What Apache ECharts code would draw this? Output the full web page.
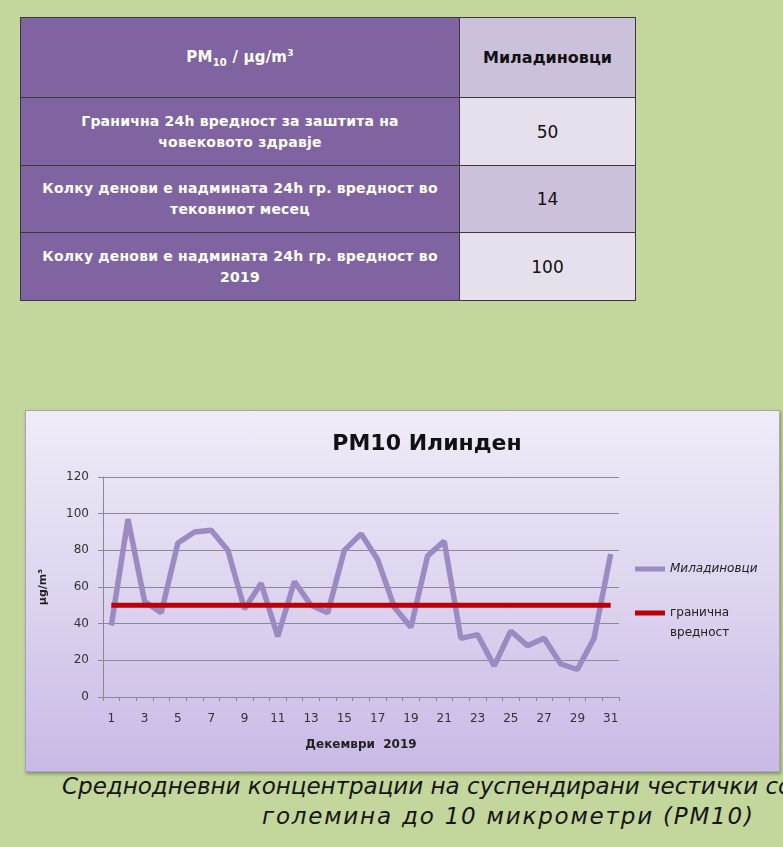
<!DOCTYPE html>
<html>
<head>
<meta charset="utf-8">
<script src="https://cdn.jsdelivr.net/npm/echarts@6/dist/echarts.min.js"></script>
<style>
  html, body { margin: 0; padding: 0; width: 783px; height: 847px; overflow: hidden; background: #c3d69b; }
  #tbl { position: absolute; left: 20px; top: 17px; border-collapse: collapse; font-family: "DejaVu Sans", sans-serif; }
  #tbl td { border: 1.5px solid #3a3a3a; text-align: center; padding: 0; }
  #tbl td.lab { background: #8064a2; color: #fff; font-weight: bold; width: 438px; font-size: 14px; line-height: 21px; letter-spacing: 0.2px; }
  #tbl td.val { width: 175px; color: #111; font-size: 17px; }
  #tbl td.hd { font-size: 15px; font-weight: bold; }
  #chart { position: absolute; left: 25px; top: 410px; width: 755px; height: 362px;
           border: 1px solid #a9a6ad; box-sizing: border-box;
           background: linear-gradient(to bottom, #efecf8 0%, #dcd2ee 55%, #c9b9e6 100%);
           box-shadow: 1px 2px 3px rgba(60,60,60,0.45); }
  .cap { position: absolute; white-space: nowrap; font-family: "DejaVu Sans", sans-serif; font-style: italic;
         font-size: 23px; color: #151515; }
</style>
</head>
<body>
<table id="tbl">
  <tr style="height:80px">
    <td class="lab hd">PM<sub style="font-size:10px">10</sub> / µg/m<sup style="font-size:9px">3</sup></td>
    <td class="val hd" style="background:#ccc1da; font-size:16px">Миладиновци</td>
  </tr>
  <tr style="height:68px">
    <td class="lab">Гранична 24h вредност за заштита на<br>човековото здравје</td>
    <td class="val" id="v0" style="background:#e5e0ec"></td>
  </tr>
  <tr style="height:67px">
    <td class="lab">Колку денови е надмината 24h гр. вредност во<br>тековниот месец</td>
    <td class="val" id="v1" style="background:#ccc1da"></td>
  </tr>
  <tr style="height:68px">
    <td class="lab">Колку денови е надмината 24h гр. вредност во<br>2019</td>
    <td class="val" id="v2" style="background:#e5e0ec"></td>
  </tr>
</table>

<div id="chart"></div>

<div class="cap" style="left:62px; top:773px;">Среднодневни концентрации на суспендирани честички со</div>
<div class="cap" style="left:262px; top:803px; letter-spacing:1.8px;">големина до 10 микрометри (PM10)</div>

<script>
// Days of December 2019
const days = ['1','2','3','4','5','6','7','8','9','10','11','12','13','14','15','16',
              '17','18','19','20','21','22','23','24','25','26','27','28','29','30','31'];
// Daily mean PM10 at Миладиновци, µg/m³
const pm10 = [39, 97, 52, 46, 84, 90, 91, 80, 48, 62, 33, 63, 50, 46, 80, 89,
              75, 49, 38, 77, 85, 32, 34, 17, 36, 28, 32, 18, 15, 32, 78];
// 24h limit value
const limitValue = 50;
const limitLine = days.map(() => limitValue);
// Summary table values
const tableValues = [50, 14, 100];
const yTicks = { min: 0, max: 120, interval: 20 };

tableValues.forEach((v, i) => { document.getElementById('v' + i).textContent = v; });

const font = '"DejaVu Sans", sans-serif';
const chart = echarts.init(document.getElementById('chart'), null, { renderer: 'canvas' });
chart.setOption({
  backgroundColor: 'transparent',
  animation: false,
  title: {
    text: 'PM10 Илинден',
    left: 396, top: 17, textAlign: 'center',
    textStyle: { fontFamily: font, fontSize: 22, fontWeight: 'bold', color: '#111' }
  },
  grid: { left: 77, right: 160, top: 66, bottom: 74 },
  legend: {
    orient: 'vertical',
    left: 604, top: 143,
    itemGap: 4,
    itemWidth: 30, itemHeight: 5,
    icon: 'rect',
    // a leading blank line keeps the key mark level with the first text line
    formatter: n => n.indexOf(' ') > 0 ? ' \n' + n.replace(' ', '\n') : n,
    textStyle: { fontFamily: font, fontSize: 12, color: '#222', lineHeight: 20 },
    data: [
      { name: 'Миладиновци', textStyle: { fontStyle: 'italic' } },
      { name: 'гранична вредност' }
    ]
  },
  xAxis: {
    type: 'category',
    data: days,
    boundaryGap: true,
    name: 'Декември  2019',
    nameLocation: 'middle',
    nameGap: 42,
    nameTextStyle: { fontFamily: font, fontSize: 12, fontWeight: 'bold', color: '#222' },
    axisLine: { lineStyle: { color: '#8a8797', width: 1 } },
    axisTick: { show: true, interval: 0, length: 4, lineStyle: { color: '#8a8797' } },
    axisLabel: { interval: 1, margin: 16, fontFamily: font, fontSize: 12, color: '#333' }
  },
  yAxis: {
    type: 'value',
    min: yTicks.min, max: yTicks.max, interval: yTicks.interval,
    name: 'µg/m³',
    nameLocation: 'middle',
    nameRotate: 90,
    nameGap: 54,
    nameTextStyle: { fontFamily: font, fontSize: 11, fontWeight: 'bold', color: '#222' },
    axisLine: { show: true, lineStyle: { color: '#8a8797', width: 1 } },
    axisTick: { show: true, length: 5, lineStyle: { color: '#8a8797' } },
    axisLabel: { margin: 14, fontFamily: font, fontSize: 12, color: '#333' },
    splitLine: { lineStyle: { color: '#8d8a98', width: 1 } }
  },
  series: [
    {
      name: 'Миладиновци',
      type: 'line',
      data: pm10,
      symbol: 'none',
      color: '#9a8cc2',
      lineStyle: { width: 5.5, color: '#9a8cc2' },
      z: 2
    },
    {
      name: 'гранична вредност',
      type: 'line',
      data: limitLine,
      symbol: 'none',
      color: '#c00000',
      lineStyle: { width: 5, color: '#c00000' },
      z: 3
    }
  ]
});
</script>
</body>
</html>
